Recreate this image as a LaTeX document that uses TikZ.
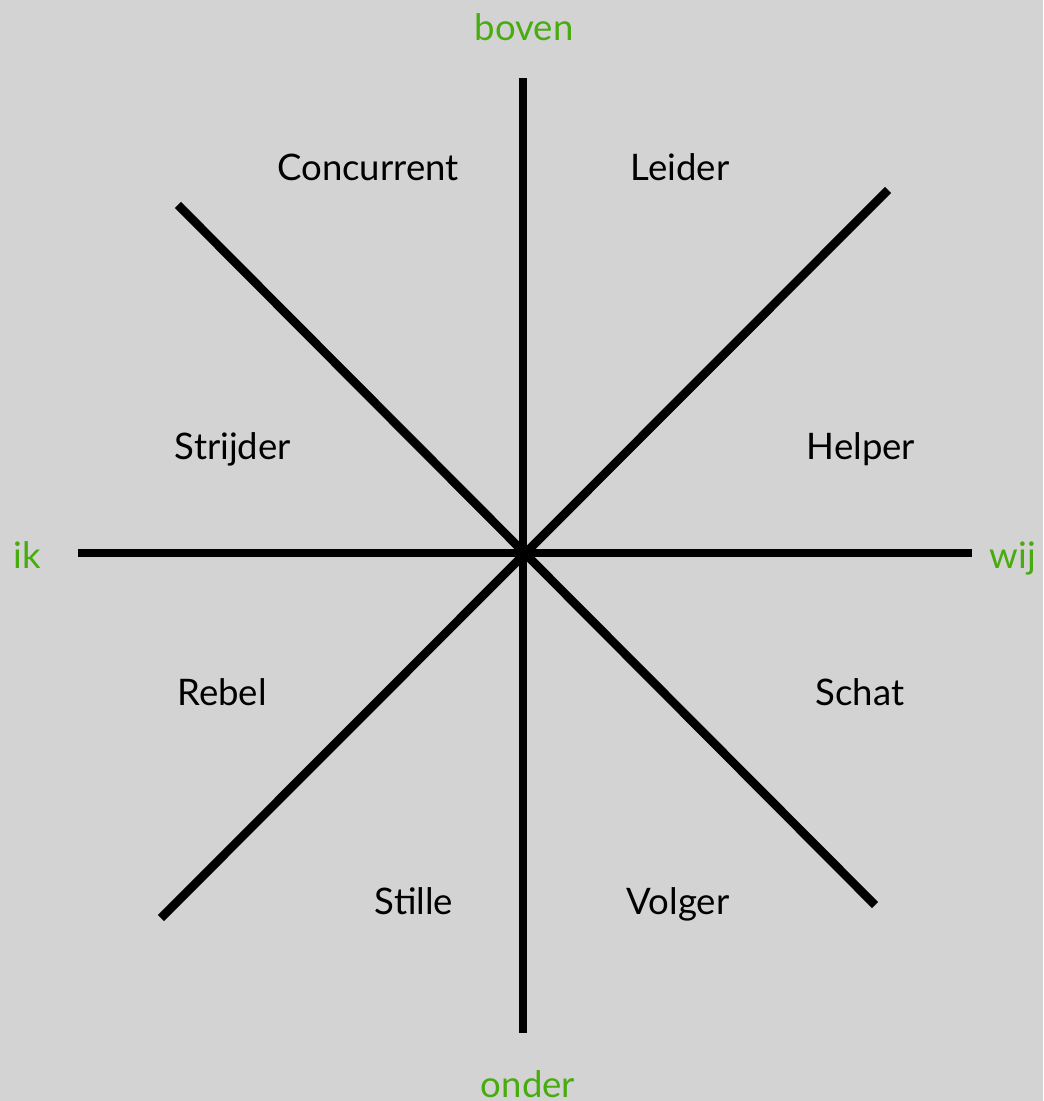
\documentclass[tikz,border=0pt]{standalone}
\usepackage{fontspec}
\setmainfont{Lato}
\definecolor{slidegray}{HTML}{D3D3D3}
\definecolor{axisgreen}{HTML}{48AC10}
\definecolor{inkblack}{HTML}{000000}
\usetikzlibrary{positioning}

\begin{document}
\begin{tikzpicture}
  % slide background, fixes the margins
  \fill[slidegray] (-5.22,-5.48) rectangle (5.21,5.53);
  \useasboundingbox (-5.22,-5.48) rectangle (5.21,5.53);
  \tikzset{
    axisline/.style={line width=2.45pt,inkblack},
    rolelabel/.style={inkblack,font=\fontsize{10.4}{12}\selectfont,anchor=base},
    poollabel/.style={axisgreen,font=\fontsize{10.4}{12}\selectfont,anchor=base}
  }
  \coordinate (mid) at (0,0);
  % the four cuts through the middle
  \draw[axisline] (0.01,4.75) -- (0.01,-4.80);
  \draw[axisline] (-4.44,0) -- (4.50,0);
  \draw[axisline] (-3.44,3.48) -- (3.53,-3.52);
  \draw[axisline] (3.66,3.63) -- (-3.61,-3.65);
  % axis ends
  \node[poollabel] (boven) at (0.02,5.12) {boven};
  \node[poollabel] (onder) at (0.06,-5.44) {onder};
  \node[poollabel] (ik) at (-4.95,-0.16) {ik};
  \node[poollabel] (wij) at (4.91,-0.16) {wij};
  % the eight roles
  \node[rolelabel] (concurrent) at (-1.54,3.72) {Concurrent};
  \node[rolelabel] (leider) at (1.58,3.72) {Leider};
  \node[rolelabel] (strijder) at (-2.89,0.93) {Strijder};
  \node[rolelabel] (helper) at (3.39,0.93) {Helper};
  \node[rolelabel] (rebel) at (-3.00,-1.53) {Rebel};
  \node[rolelabel] (schat) at (3.38,-1.53) {Schat};
  \node[rolelabel] (stille) at (-1.08,-3.61) {Stille};
  \node[rolelabel] (volger) at (1.56,-3.61) {Volger};
\end{tikzpicture}
\end{document}
